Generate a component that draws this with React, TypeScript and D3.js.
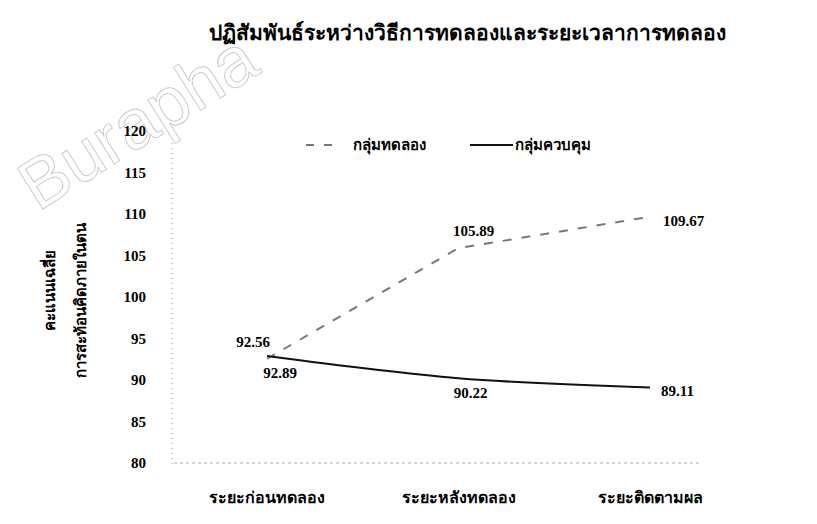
import React from "react";
import * as d3 from "d3";

const title = "ปฏิสัมพันธ์ระหว่างวิธีการทดลองและระยะเวลาการทดลอง";
const categories = ["ระยะก่อนทดลอง", "ระยะหลังทดลอง", "ระยะติดตามผล"];
const seriesNames = ["กลุ่มทดลอง", "กลุ่มควบคุม"];
const experimental = [92.56, 105.89, 109.67];
const control = [92.89, 90.22, 89.11];
const yTicks = [80, 85, 90, 95, 100, 105, 110, 115, 120];
const yTitleLines = ["คะแนนเฉลี่ย", "การสะท้อนคิดภายในตน"];

const W = 817;
const H = 524;
const FONT = "'Liberation Serif', 'Times New Roman', serif";

export default function App() {
  const x = d3.scalePoint<string>().domain(categories).range([267, 650]);
  const y = d3.scaleLinear().domain([80, 120]).range([463, 131]);

  const lineStraight = d3
    .line<number>()
    .x((_, i) => x(categories[i]) as number)
    .y((d) => y(d));
  const lineSmooth = d3
    .line<number>()
    .x((_, i) => x(categories[i]) as number)
    .y((d) => y(d))
    .curve(d3.curveMonotoneX);

  return (
    <svg
      width={W}
      height={H}
      style={{ position: "absolute", left: 0, top: 0, background: "#fff" }}
      fontFamily={FONT}
    >
      <rect width={W} height={H} fill="#fff" />
      {/* watermark */}
      <text
        x={0}
        y={0}
        transform="translate(38,212) rotate(-32)"
        fontFamily="'Liberation Sans', Arial, sans-serif"
        fontSize={70}
        fill="none"
        stroke="#cccccc"
        strokeWidth={1}
      >
        Burapha
      </text>

      {/* title */}
      <text x={467} y={40} textAnchor="middle" fontSize={21} fontWeight="bold" fill="#000">
        {title}
      </text>

      {/* axes */}
      <line x1={172} x2={172} y1={143} y2={466} stroke="#999" strokeWidth={1} strokeDasharray="1,4" />
      <line x1={174} x2={700} y1={463} y2={463} stroke="#aaa" strokeWidth={1} strokeDasharray="3,3" />

      {/* y ticks */}
      {yTicks.map((t) => (
        <text key={t} x={146} y={y(t)} dy="0.35em" textAnchor="end" fontSize={15} fontWeight="bold" fill="#000">
          {t}
        </text>
      ))}

      {/* y title */}
      {yTitleLines.map((s, i) => (
        <text
          key={s}
          transform={`translate(${i === 0 ? 55 : 86},${i === 0 ? 290 : 300}) rotate(-90)`}
          textAnchor="middle"
          fontSize={15}
          fontWeight="bold"
          fill="#000"
        >
          {s}
        </text>
      ))}

      {/* x labels */}
      {categories.map((c) => (
        <text key={c} x={x(c)} y={503} textAnchor="middle" fontSize={16} fontWeight="bold" fill="#000">
          {c}
        </text>
      ))}

      {/* lines */}
      <path d={lineStraight(experimental) || ""} fill="none" stroke="#777" strokeWidth={2} strokeDasharray="9,10" />
      <path d={lineSmooth(control) || ""} fill="none" stroke="#111" strokeWidth={2} />

      {/* data labels */}
      {experimental.map((v, i) => {
        const cx = x(categories[i]) as number;
        const pos = [
          { dx: -14, dy: -12, a: "middle" },
          { dx: 15, dy: -12, a: "middle" },
          { dx: 13, dy: 9, a: "start" },
        ][i];
        return (
          <text key={"e" + i} x={cx + pos.dx} y={y(v) + pos.dy} textAnchor={pos.a} fontSize={15} fontWeight="bold" fill="#000">
            {v.toFixed(2)}
          </text>
        );
      })}
      {control.map((v, i) => {
        const cx = x(categories[i]) as number;
        const pos = [
          { dx: 13, dy: 22, a: "middle" },
          { dx: 12, dy: 20, a: "middle" },
          { dx: 11, dy: 9, a: "start" },
        ][i];
        return (
          <text key={"c" + i} x={cx + pos.dx} y={y(v) + pos.dy} textAnchor={pos.a} fontSize={15} fontWeight="bold" fill="#000">
            {v.toFixed(2)}
          </text>
        );
      })}

      {/* legend */}
      <line x1={306} x2={338} y1={145} y2={145} stroke="#777" strokeWidth={2} strokeDasharray="8,10" />
      <text x={353} y={145} dy="0.35em" fontSize={15} fontWeight="bold" fill="#000">
        {seriesNames[0]}
      </text>
      <line x1={470} x2={513} y1={145} y2={145} stroke="#111" strokeWidth={2} />
      <text x={515} y={145} dy="0.35em" fontSize={15} fontWeight="bold" fill="#000">
        {seriesNames[1]}
      </text>
    </svg>
  );
}
